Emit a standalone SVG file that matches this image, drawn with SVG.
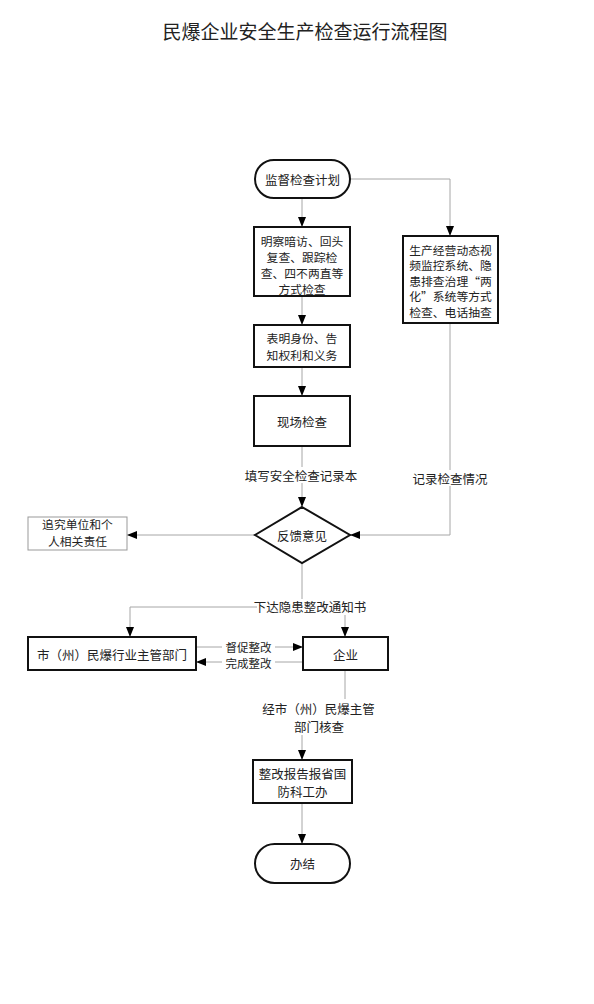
<svg xmlns="http://www.w3.org/2000/svg" width="594" height="1004" viewBox="0 0 594 1004">
<style>
text{font-family:"Noto Sans CJK SC","Noto Sans CJK JP",sans-serif;fill:#222;text-anchor:middle;dominant-baseline:central}
.t{font-size:12.5px}
.s{font-size:11.8px}
.lb{font-size:12.5px}
.ls{font-size:11.5px}
.title{font-size:19px}
.box{fill:#fff;stroke:#111;stroke-width:2}
.thin{fill:#fff;stroke:#999;stroke-width:1}
.c{fill:none;stroke:#a6a6a6;stroke-width:1}
.bg{fill:#fff}
</style>
<defs>
<marker id="a" markerUnits="userSpaceOnUse" markerWidth="10" markerHeight="10" viewBox="0 0 10 10" refX="10" refY="5" orient="auto">
<path d="M0,1 L10,5 L0,9 Z" fill="#000"/>
</marker>
</defs>
<rect width="594" height="1004" fill="#fff"/>
<text class="title" x="305" y="30">民爆企业安全生产检查运行流程图</text>

<g id="connectors">
<path class="c" d="M302,198 V227" marker-end="url(#a)"/>
<path class="c" d="M350,179 H450 V236" marker-end="url(#a)"/>
<path class="c" d="M302,296 V325" marker-end="url(#a)"/>
<path class="c" d="M302,367 V396" marker-end="url(#a)"/>
<path class="c" d="M302,446 V507" marker-end="url(#a)"/>
<path class="c" d="M450,323 V535 H350" marker-end="url(#a)"/>
<path class="c" d="M255,535 H127" marker-end="url(#a)"/>
<path class="c" d="M302,563 V607"/>
<path class="c" d="M302,607 H130 V637" marker-end="url(#a)"/>
<path class="c" d="M302,607 H345 V637" marker-end="url(#a)"/>
<path class="c" d="M196,647 H303" marker-end="url(#a)"/>
<path class="c" d="M303,662 H196" marker-end="url(#a)"/>
<path class="c" d="M345,670 V715 H302 V760" marker-end="url(#a)"/>
<path class="c" d="M302,803 V844" marker-end="url(#a)"/>
<rect class="bg" x="241" y="467" width="120" height="16"/>
<text class="lb" x="301" y="475">填写安全检查记录本</text>
<rect class="bg" x="410" y="470" width="80" height="16"/>
<text class="lb" x="450" y="478">记录检查情况</text>
<rect class="bg" x="257" y="599" width="107" height="16"/>
<text class="lb" x="310" y="606">下达隐患整改通知书</text>
<rect class="bg" x="222" y="640" width="53" height="14"/>
<text class="ls" x="248.5" y="646.5">督促整改</text>
<rect class="bg" x="222" y="655" width="53" height="14"/>
<text class="ls" x="248.5" y="662.5">完成整改</text>
<rect class="bg" x="268" y="699" width="101" height="36"/>
<text class="lb" x="318.5" y="708">经市（州）民爆主管</text>
<text class="lb" x="319" y="726">部门核查</text>
</g>

<g id="start">
<rect class="box" x="255" y="160" width="95" height="38" rx="19"/>
<text class="t" x="302.5" y="179">监督检查计划</text>
</g>
<g id="n1">
<rect class="box" x="254" y="227" width="96" height="69"/>
<text class="s" x="302" y="240">明察暗访、回头</text>
<text class="s" x="302" y="256">复查、跟踪检</text>
<text class="s" x="302" y="272">查、四不两直等</text>
<text class="s" x="302" y="288">方式检查</text>
</g>
<g id="n2">
<rect class="box" x="403" y="236" width="95" height="87"/>
<text class="s" x="450.5" y="249">生产经营动态视</text>
<text class="s" x="450.5" y="264.5">频监控系统、隐</text>
<text class="s" x="450.5" y="280">患排查治理“两</text>
<text class="s" x="450.5" y="295.5">化”系统等方式</text>
<text class="s" x="450.5" y="311">检查、电话抽查</text>
</g>
<g id="n3">
<rect class="box" x="254" y="325" width="96" height="42"/>
<text class="s" x="302" y="337.5">表明身份、告</text>
<text class="s" x="302" y="354.5">知权利和义务</text>
</g>
<g id="n4">
<rect class="box" x="254" y="396" width="96" height="50"/>
<text class="t" x="302" y="421">现场检查</text>
</g>
<g id="d1">
<path class="box" d="M302,507 L350,535 L302,563 L255,535 Z"/>
<text class="t" x="302" y="535">反馈意见</text>
</g>
<g id="n5">
<rect class="thin" x="28" y="517" width="99" height="33"/>
<text class="s" x="77.5" y="523">追究单位和个</text>
<text class="s" x="77.5" y="540">人相关责任</text>
</g>
<g id="n6">
<rect class="box" x="28" y="637" width="168" height="33"/>
<text class="t" x="112" y="654">市（州）民爆行业主管部门</text>
</g>
<g id="n7">
<rect class="box" x="303" y="637" width="85" height="33"/>
<text class="t" x="345.5" y="654">企业</text>
</g>
<g id="n8">
<rect class="box" x="253" y="760" width="99" height="43"/>
<text class="t" x="302.5" y="773">整改报告报省国</text>
<text class="t" x="302.5" y="791">防科工办</text>
</g>
<g id="end">
<rect class="box" x="255" y="844" width="95" height="39" rx="19.5"/>
<text class="t" x="302.5" y="863.5">办结</text>
</g>
</svg>
